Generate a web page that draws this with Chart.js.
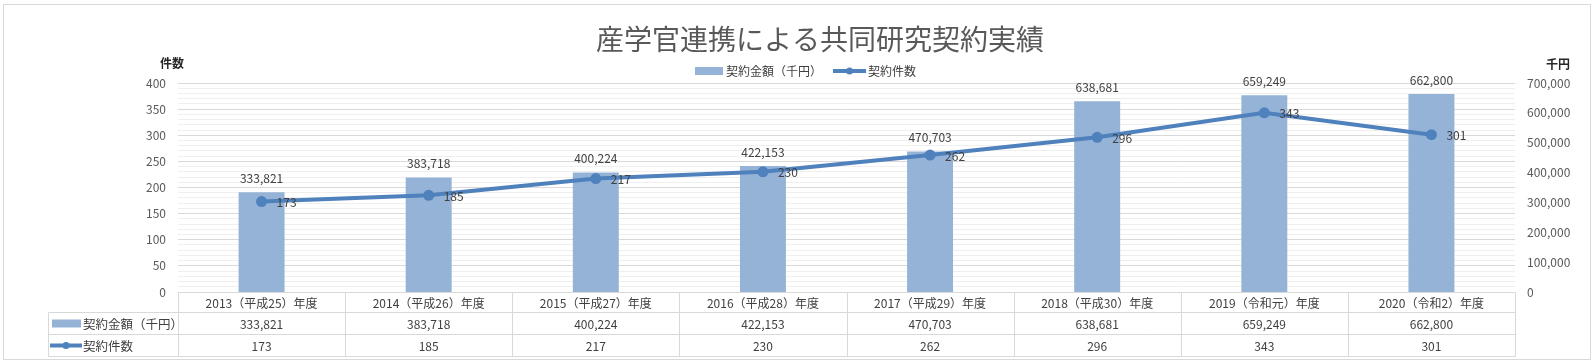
<!DOCTYPE html>
<html>
<head>
<meta charset="utf-8">
<script src="https://cdn.jsdelivr.net/npm/chart.js@4.4.1/dist/chart.umd.min.js"></script>
<style>
  html, body { margin: 0; padding: 0; background: #fff; }
  canvas { display: block; }
</style>
</head>
<body>
<canvas id="chart" width="1596" height="364"></canvas>
<script>
// --- data
const chartTitle = "産学官連携による共同研究契約実績";
const years = [
  "2013（平成25）年度", "2014（平成26）年度", "2015（平成27）年度", "2016（平成28）年度",
  "2017（平成29）年度", "2018（平成30）年度", "2019（令和元）年度", "2020（令和2）年度"
];
const amountName = "契約金額（千円）";
const countName = "契約件数";
const amounts = [333821, 383718, 400224, 422153, 470703, 638681, 659249, 662800];
const counts = [173, 185, 217, 230, 262, 296, 343, 301];
const leftUnit = "件数";
const rightUnit = "千円";

// --- styles
const FONT = "'Noto Sans CJK JP', 'Noto Sans', sans-serif";
const BAR_COLOR = "#95B3D7";
const LINE_COLOR = "#4F81BD";
const TEXT_COLOR = "#404040";
const AXIS_COLOR = "#595959";
const BORDER = "#D9D9D9";

const fmt = v => v.toLocaleString("en-US");

// title, legend, unit labels, outer frame
const decorPlugin = {
  id: "decor",
  beforeDraw(chart) {
    const ctx = chart.ctx;
    ctx.save();
    ctx.fillStyle = "#fff";
    ctx.fillRect(0, 0, chart.width, chart.height);
    ctx.strokeStyle = BORDER;
    ctx.lineWidth = 1;
    ctx.strokeRect(3.5, 4.5, 1587, 355);
    ctx.restore();
  },
  afterDraw(chart) {
    const ctx = chart.ctx;
    ctx.save();
    ctx.textBaseline = "middle";
    // title
    ctx.fillStyle = AXIS_COLOR;
    ctx.font = `28px ${FONT}`;
    ctx.textAlign = "center";
    ctx.fillText(chartTitle, 820, 39);
    // legend
    ctx.font = `12px ${FONT}`;
    ctx.textAlign = "left";
    ctx.fillStyle = BAR_COLOR;
    ctx.fillRect(695, 67, 28, 8);
    ctx.fillStyle = TEXT_COLOR;
    ctx.fillText(amountName, 726, 71);
    drawLineSwatch(ctx, 833, 866, 71);
    ctx.fillStyle = TEXT_COLOR;
    ctx.fillText(countName, 868, 71);
    // unit labels
    ctx.font = `bold 12px ${FONT}`;
    ctx.fillStyle = "#262626";
    ctx.textAlign = "center";
    ctx.fillText(leftUnit, 172, 63);
    ctx.textAlign = "right";
    ctx.fillText(rightUnit, 1570, 64);
    ctx.restore();
  }
};

function drawLineSwatch(ctx, x0, x1, y) {
  ctx.save();
  ctx.strokeStyle = LINE_COLOR;
  ctx.lineWidth = 4;
  ctx.beginPath();
  ctx.moveTo(x0, y);
  ctx.lineTo(x1, y);
  ctx.stroke();
  ctx.fillStyle = LINE_COLOR;
  ctx.beginPath();
  ctx.arc((x0 + x1) / 2, y, 3.5, 0, Math.PI * 2);
  ctx.fill();
  ctx.restore();
}

// value labels for bars and points
const valueLabels = {
  id: "valueLabels",
  afterDatasetsDraw(chart) {
    const ctx = chart.ctx;
    ctx.save();
    ctx.font = `12px ${FONT}`;
    ctx.fillStyle = TEXT_COLOR;
    ctx.textBaseline = "middle";
    chart.data.datasets.forEach((ds, i) => {
      const meta = chart.getDatasetMeta(i);
      meta.data.forEach((el, j) => {
        if (ds.type === "bar") {
          ctx.textAlign = "center";
          ctx.fillText(fmt(ds.data[j]), el.x, el.y - 14);
        } else {
          ctx.textAlign = "left";
          ctx.fillText(fmt(ds.data[j]), el.x + 15, el.y + 1);
        }
      });
    });
    ctx.restore();
  }
};

// data table under the plot
const dataTable = {
  id: "dataTable",
  afterDraw(chart) {
    const ctx = chart.ctx;
    const ca = chart.chartArea;
    const xs = chart.scales.x;
    const n = years.length;
    const colW = (ca.right - ca.left) / n;
    const top = Math.round(ca.bottom) + 0.5;
    const r1 = top + 20, r2 = r1 + 22, r3 = r2 + 22;
    const leftCol = 48.5;
    const left = Math.round(ca.left) + 0.5;
    const right = Math.round(ca.right) + 0.5;

    ctx.save();
    ctx.strokeStyle = BORDER;
    ctx.lineWidth = 1;
    ctx.beginPath();
    ctx.moveTo(left, top); ctx.lineTo(right, top);
    [r1, r2, r3].forEach(y => { ctx.moveTo(leftCol, y); ctx.lineTo(right, y); });
    ctx.moveTo(leftCol, r1); ctx.lineTo(leftCol, r3);
    for (let i = 0; i <= n; i++) {
      const x = Math.round(ca.left + i * colW) + 0.5;
      ctx.moveTo(x, top); ctx.lineTo(x, r3);
    }
    ctx.stroke();

    ctx.font = `12px ${FONT}`;
    ctx.fillStyle = TEXT_COLOR;
    ctx.textBaseline = "middle";
    ctx.textAlign = "center";
    years.forEach((y, i) => {
      const cx = xs.getPixelForValue(i);
      ctx.fillText(y, cx, (top + r1) / 2 + 1);
      ctx.fillText(fmt(amounts[i]), cx, (r1 + r2) / 2 + 1);
      ctx.fillText(fmt(counts[i]), cx, (r2 + r3) / 2 + 1);
    });

    // row headers with legend keys
    ctx.fillStyle = BAR_COLOR;
    ctx.fillRect(52, (r1 + r2) / 2 - 4, 29, 8);
    drawLineSwatch(ctx, 50, 82, (r2 + r3) / 2);
    ctx.fillStyle = TEXT_COLOR;
    ctx.textAlign = "left";
    ctx.font = `12.5px ${FONT}`;
    ctx.fillText(amountName, 83, (r1 + r2) / 2 + 1);
    ctx.fillText(countName, 83, (r2 + r3) / 2 + 1);
    ctx.restore();
  }
};

new Chart(document.getElementById("chart"), {
  data: {
    labels: years,
    datasets: [
      {
        type: "line",
        label: countName,
        data: counts,
        yAxisID: "y",
        borderColor: LINE_COLOR,
        backgroundColor: LINE_COLOR,
        borderWidth: 4,
        pointRadius: 5.5,
        pointBackgroundColor: LINE_COLOR,
        pointBorderWidth: 0,
        tension: 0,
        order: 0
      },
      {
        type: "bar",
        label: amountName,
        data: amounts,
        yAxisID: "y1",
        backgroundColor: BAR_COLOR,
        categoryPercentage: 1,
        barPercentage: 0.275,
        order: 1
      }
    ]
  },
  options: {
    responsive: false,
    animation: false,
    layout: { padding: { top: 83, bottom: 72, left: 0, right: 0 } },
    plugins: {
      legend: { display: false },
      title: { display: false },
      tooltip: { enabled: false }
    },
    scales: {
      x: { display: false, offset: true },
      y: {
        position: "left",
        min: 0, max: 400,
        afterFit: s => { s.width = 178; },
        border: { display: false },
        grid: {
          drawTicks: false,
          lineWidth: 1,
          color: c => (c.tick.value % 50 === 0 ? "#D9D9D9" : "#EFEFEF")
        },
        ticks: {
          stepSize: 10,
          autoSkip: false,
          padding: 12,
          color: AXIS_COLOR,
          font: { family: FONT, size: 12 },
          callback: v => (v % 50 === 0 ? v : "")
        }
      },
      y1: {
        position: "right",
        min: 0, max: 700000,
        afterFit: s => { s.width = 81; },
        border: { display: false },
        grid: { display: false, drawTicks: false },
        ticks: {
          stepSize: 100000,
          padding: 12,
          color: AXIS_COLOR,
          font: { family: FONT, size: 12 },
          callback: v => fmt(v)
        }
      }
    }
  },
  plugins: [decorPlugin, valueLabels, dataTable]
});
</script>
</body>
</html>
